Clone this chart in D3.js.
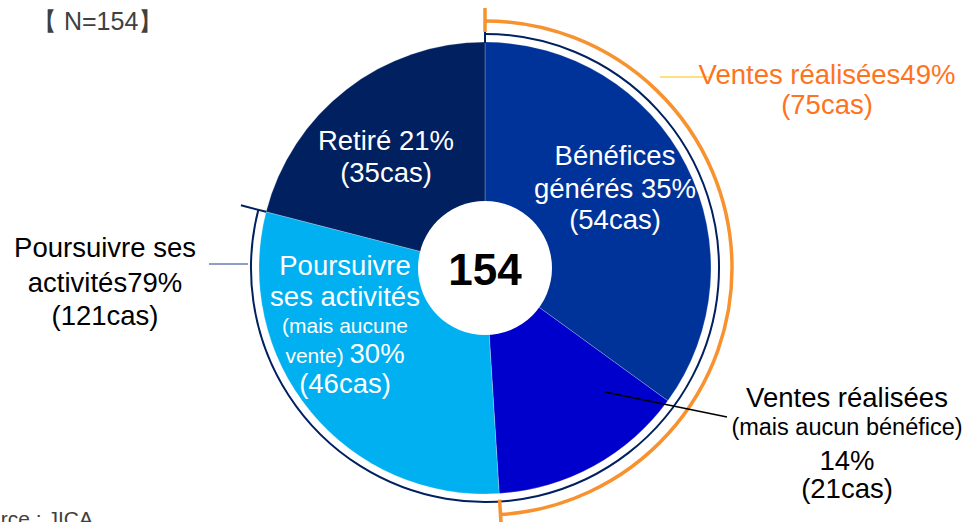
<!DOCTYPE html>
<html>
<head>
<meta charset="utf-8">
<script src="https://cdn.jsdelivr.net/npm/d3@7"></script>
<style>
  body { margin: 0; background: #fff; }
  svg { display: block; font-family: Arial, "Liberation Sans", sans-serif; }
</style>
</head>
<body>
<svg id="chart" width="971" height="522"></svg>
<script>
// Données du graphique (sens horaire depuis midi)
const categories = ['Bénéfices générés', 'Ventes réalisées (mais aucun bénéfice)', 'Poursuivre ses activités (mais aucune vente)', 'Retiré'];
const percents = [35, 14, 30, 21];
const counts = [54, 21, 46, 35];
const total = 154;
const sliceColors = ['#003399', '#0000CC', '#00B0F0', '#002060'];

// Regroupements (crochets autour du camembert)
const salesGroup = { label: 'Ventes réalisées', percent: 49, count: 75, slices: 2 };
const activeGroup = { label: 'Poursuivre ses activités', percent: 79, count: 121, slices: 3 };

const svg = d3.select('#chart');
const cx = 485, cy = 268;
const radius = 226;
const holeRadius = 67;

const pie = d3.pie().sort(null).value(d => d);
const arcs = pie(percents);
const arc = d3.arc().innerRadius(0).outerRadius(radius);

const g = svg.append('g').attr('transform', `translate(${cx},${cy})`);

// Parts du camembert
g.selectAll('path.slice').data(arcs).join('path')
  .attr('class', 'slice')
  .attr('d', arc)
  .attr('fill', (d, i) => sliceColors[i])
  .attr('stroke', '#ffffff')
  .attr('stroke-opacity', 0.4)
  .attr('stroke-width', 0.6);

// Cercle blanc central
g.append('circle').attr('r', holeRadius).attr('fill', '#fff');
g.append('text')
  .attr('y', 17)
  .attr('text-anchor', 'middle')
  .attr('font-size', 44)
  .attr('font-weight', 'bold')
  .attr('fill', '#000')
  .text(total);

// Crochet : arc + deux petits traits radiaux
function bracket(endAngle, r, color, width, tickStart, tickEnd) {
  const bg = g.append('g');
  bg.append('path')
    .attr('d', d3.arc().innerRadius(r).outerRadius(r).startAngle(0).endAngle(endAngle)())
    .attr('fill', 'none')
    .attr('stroke', color)
    .attr('stroke-width', width);
  [[0, tickStart[0], tickStart[1]], [endAngle, tickEnd[0], tickEnd[1]]].forEach(([a, r0, r1]) => {
    bg.append('line')
      .attr('x1', r0 * Math.sin(a)).attr('y1', -r0 * Math.cos(a))
      .attr('x2', r1 * Math.sin(a)).attr('y2', -r1 * Math.cos(a))
      .attr('stroke', color)
      .attr('stroke-width', width);
  });
}

bracket(arcs[activeGroup.slices - 1].endAngle, 234, '#002060', 2, [225, 238], [226, 252]);
bracket(arcs[salesGroup.slices - 1].endAngle, 247, '#F7922F', 3.5, [236, 260], [232, 262]);

// Traits de rappel
svg.append('line').attr('x1', 660).attr('y1', 77).attr('x2', 712).attr('y2', 77)
  .attr('stroke', '#FFC000').attr('stroke-width', 1);
svg.append('line').attr('x1', 209).attr('y1', 264).attr('x2', 248).attr('y2', 264)
  .attr('stroke', '#1F3C88').attr('stroke-width', 1);
svg.append('line').attr('x1', 605).attr('y1', 392).attr('x2', 727).attr('y2', 417)
  .attr('stroke', '#000').attr('stroke-width', 1.5);

// Étiquettes
function label(x, lines, color) {
  const t = svg.append('text').attr('text-anchor', 'middle').attr('fill', color);
  lines.forEach(l => {
    const line = t.append('tspan').attr('x', x).attr('y', l.y);
    l.parts.forEach(p => line.append('tspan').attr('font-size', p.size || 27.5).text(p.text));
  });
}

label(615, [
  { y: 165, parts: [{ text: 'Bénéfices' }] },
  { y: 198, parts: [{ text: `générés ${percents[0]}%` }] },
  { y: 229, parts: [{ text: `(${counts[0]}cas)` }] }
], '#fff');

label(386, [
  { y: 150, parts: [{ text: `Retiré ${percents[3]}%` }] },
  { y: 182, parts: [{ text: `(${counts[3]}cas)` }] }
], '#fff');

label(345, [
  { y: 275, parts: [{ text: 'Poursuivre' }] },
  { y: 306, parts: [{ text: 'ses activités' }] },
  { y: 333, parts: [{ text: '(mais aucune', size: 21 }] },
  { y: 363, parts: [{ text: 'vente) ', size: 21 }, { text: `${percents[2]}%` }] },
  { y: 393, parts: [{ text: `(${counts[2]}cas)` }] }
], '#fff');

label(847, [
  { y: 407, parts: [{ text: 'Ventes réalisées' }] },
  { y: 435, parts: [{ text: '(mais aucun bénéfice)', size: 23.5 }] },
  { y: 470, parts: [{ text: `${percents[1]}%` }] },
  { y: 498, parts: [{ text: `(${counts[1]}cas)` }] }
], '#000');

label(827, [
  { y: 84, parts: [{ text: `${salesGroup.label}${salesGroup.percent}%` }] },
  { y: 114, parts: [{ text: `(${salesGroup.count}cas)` }] }
], '#FF7320');

label(105, [
  { y: 257, parts: [{ text: 'Poursuivre ses' }] },
  { y: 292, parts: [{ text: `activités${activeGroup.percent}%` }] },
  { y: 325, parts: [{ text: `(${activeGroup.count}cas)` }] }
], '#000');

// Effectif et source
svg.append('text').attr('x', 32).attr('y', 30).attr('font-size', 25).attr('fill', '#404040')
  .text(`【 N=${total}】`);
svg.append('text').attr('x', 93).attr('y', 526).attr('text-anchor', 'end')
  .attr('font-size', 21).attr('fill', '#404040').text('Source : JICA');
</script>
</body>
</html>
